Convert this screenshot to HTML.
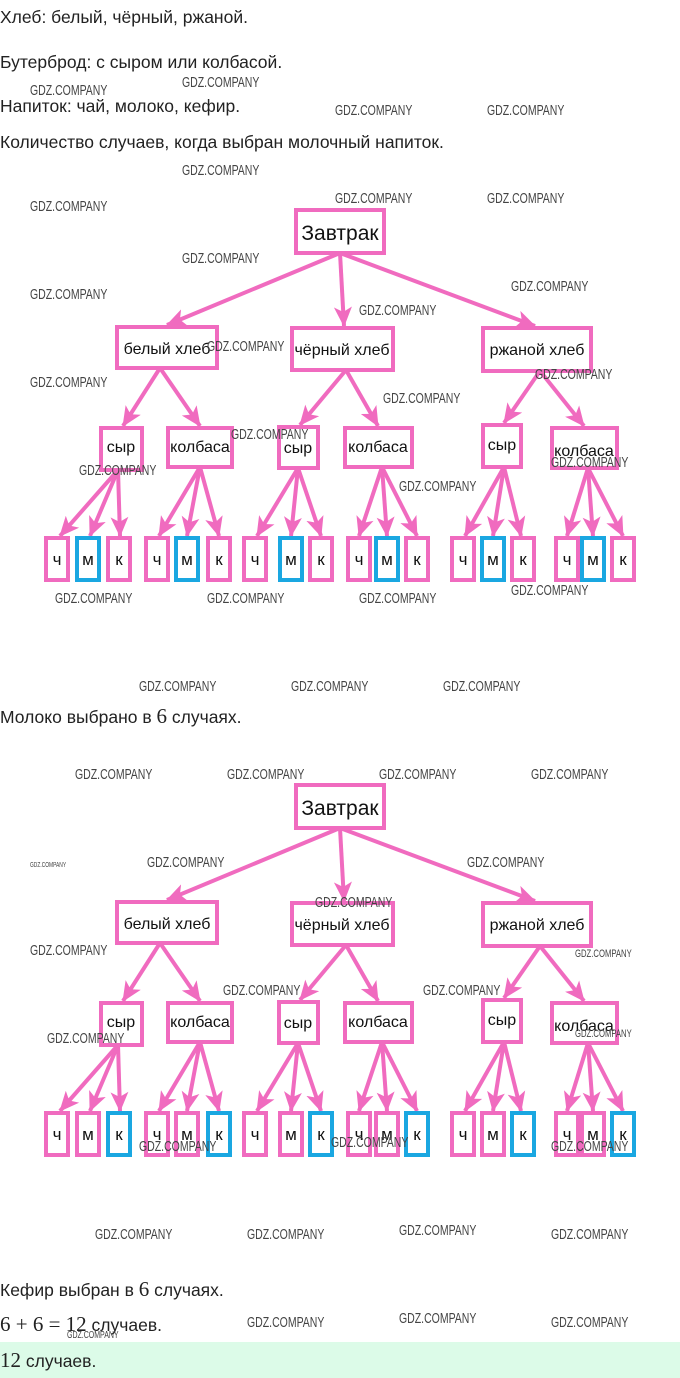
<!DOCTYPE html>
<html><head><meta charset="utf-8"><style>
body{margin:0;background:#fff;width:680px;height:1378px;position:relative;overflow:hidden;font-family:"Liberation Sans","DejaVu Sans",sans-serif;color:#222}
.t{position:absolute;left:0;font-size:17.5px;white-space:nowrap}
.m{font-family:"Liberation Serif",serif;font-size:21px}
.w{position:absolute;font-family:"Liberation Sans Narrow","Liberation Sans",sans-serif;font-size:15px;color:#444;transform:scaleX(0.7);transform-origin:left;white-space:nowrap}
.g{position:absolute;left:0;top:1342px;width:680px;height:36px;background:#dcfbe8}
svg{position:absolute;left:0}
</style></head><body>
<div class="t" style="top:7px">Хлеб: белый, чёрный, ржаной.</div>
<div class="t" style="top:52px">Бутерброд: с сыром или колбасой.</div>
<div class="t" style="top:96px">Напиток: чай, молоко, кефир.</div>
<div class="t" style="top:132px">Количество случаев, когда выбран молочный напиток.</div>
<div class="t" style="top:704px">Молоко выбрано в <span class="m">6</span> случаях.</div>
<div class="t" style="top:1277px">Кефир выбран в <span class="m">6</span> случаях.</div>
<div class="t" style="top:1312px"><span class="m">6 + 6 = 12</span> случаев.</div>
<div class="g"></div>
<div class="t" style="top:1348px"><span class="m">12</span> случаев.</div>

<svg width="680" height="1378" viewBox="0 0 680 1378" style="top:0">
<defs>
<marker id="a" markerUnits="userSpaceOnUse" markerWidth="20" markerHeight="18" refX="19" refY="9" orient="auto"><path d="M0,0 L20,9 L0,18 L5,9 Z" fill="#f06bbf"/></marker>
<g id="lines" stroke="#f06bbf" stroke-width="4" fill="none" marker-end="url(#a)">
<line x1="340" y1="253" x2="167" y2="325"/>
<line x1="340" y1="253" x2="344" y2="326"/>
<line x1="340" y1="253" x2="535" y2="326"/>
<line x1="160" y1="368" x2="123" y2="426"/>
<line x1="160" y1="368" x2="200" y2="426"/>
<line x1="346" y1="370" x2="300" y2="425"/>
<line x1="346" y1="370" x2="378" y2="426"/>
<line x1="540" y1="371" x2="504" y2="423"/>
<line x1="540" y1="371" x2="584" y2="426"/>
<line x1="118" y1="470" x2="60" y2="536"/>
<line x1="118" y1="470" x2="90" y2="536"/>
<line x1="118" y1="470" x2="120" y2="536"/>
<line x1="200" y1="467" x2="159" y2="536"/>
<line x1="200" y1="467" x2="187" y2="536"/>
<line x1="200" y1="467" x2="219" y2="536"/>
<line x1="298" y1="468" x2="257" y2="536"/>
<line x1="298" y1="468" x2="291" y2="536"/>
<line x1="298" y1="468" x2="321" y2="536"/>
<line x1="382" y1="467" x2="359" y2="536"/>
<line x1="382" y1="467" x2="387" y2="536"/>
<line x1="382" y1="467" x2="417" y2="536"/>
<line x1="504" y1="467" x2="465" y2="536"/>
<line x1="504" y1="467" x2="493" y2="536"/>
<line x1="504" y1="467" x2="521" y2="536"/>
<line x1="588" y1="468" x2="567" y2="536"/>
<line x1="588" y1="468" x2="593" y2="536"/>
<line x1="588" y1="468" x2="623" y2="536"/>
</g>
<g id="boxes" fill="#fff" stroke="#f06bbf" stroke-width="4">
<rect x="296" y="210" width="88" height="43"/>
<rect x="117" y="327" width="100" height="41"/>
<rect x="292" y="328" width="101" height="42"/>
<rect x="483" y="328" width="108" height="43"/>
<rect x="101" y="428" width="41" height="42"/>
<rect x="168" y="428" width="64" height="39"/>
<rect x="279" y="427" width="39" height="41"/>
<rect x="345" y="428" width="67" height="39"/>
<rect x="483" y="425" width="38" height="42"/>
<rect x="552" y="428" width="65" height="40"/>
</g>
<g id="labels" font-family="Liberation Sans, sans-serif" fill="#111" text-anchor="middle">
<text x="340" y="240" font-size="21">Завтрак</text>
<text x="167" y="354" font-size="16">белый хлеб</text>
<text x="342" y="355" font-size="16">чёрный хлеб</text>
<text x="537" y="355" font-size="16">ржаной хлеб</text>
<text x="121" y="452" font-size="16">сыр</text>
<text x="200" y="452" font-size="16">колбаса</text>
<text x="298" y="453" font-size="16">сыр</text>
<text x="378" y="452" font-size="16">колбаса</text>
<text x="502" y="450" font-size="16">сыр</text>
<text x="584" y="456" font-size="16">колбаса</text>
</g>
<g id="lt" font-family="Liberation Sans, sans-serif" fill="#111" text-anchor="middle" font-size="17">
<text x="57" y="565">ч</text><text x="88" y="565">м</text><text x="119" y="565">к</text>
<text x="157" y="565">ч</text><text x="187" y="565">м</text><text x="219" y="565">к</text>
<text x="255" y="565">ч</text><text x="291" y="565">м</text><text x="321" y="565">к</text>
<text x="359" y="565">ч</text><text x="387" y="565">м</text><text x="417" y="565">к</text>
<text x="463" y="565">ч</text><text x="493" y="565">м</text><text x="523" y="565">к</text>
<text x="567" y="565">ч</text><text x="593" y="565">м</text><text x="623" y="565">к</text>
</g>
</defs>

<use href="#lines"/><use href="#boxes"/><use href="#labels"/>
<g fill="#fff" stroke-width="4">
<g stroke="#f06bbf">
<rect x="46" y="538" width="22" height="42"/><rect x="108" y="538" width="22" height="42"/>
<rect x="146" y="538" width="22" height="42"/><rect x="208" y="538" width="22" height="42"/>
<rect x="244" y="538" width="22" height="42"/><rect x="310" y="538" width="22" height="42"/>
<rect x="348" y="538" width="22" height="42"/><rect x="406" y="538" width="22" height="42"/>
<rect x="452" y="538" width="22" height="42"/><rect x="512" y="538" width="22" height="42"/>
<rect x="556" y="538" width="22" height="42"/><rect x="612" y="538" width="22" height="42"/>
</g>
<g stroke="#1aa7e1">
<rect x="77" y="538" width="22" height="42"/><rect x="176" y="538" width="22" height="42"/>
<rect x="280" y="538" width="22" height="42"/><rect x="376" y="538" width="22" height="42"/>
<rect x="482" y="538" width="22" height="42"/><rect x="582" y="538" width="22" height="42"/>
</g>
</g>
<use href="#lt"/>

<g transform="translate(0,575)">
<use href="#lines"/><use href="#boxes"/><use href="#labels"/>
<g fill="#fff" stroke-width="4">
<g stroke="#f06bbf">
<rect x="46" y="538" width="22" height="42"/><rect x="77" y="538" width="22" height="42"/>
<rect x="146" y="538" width="22" height="42"/><rect x="176" y="538" width="22" height="42"/>
<rect x="244" y="538" width="22" height="42"/><rect x="280" y="538" width="22" height="42"/>
<rect x="348" y="538" width="22" height="42"/><rect x="376" y="538" width="22" height="42"/>
<rect x="452" y="538" width="22" height="42"/><rect x="482" y="538" width="22" height="42"/>
<rect x="556" y="538" width="22" height="42"/><rect x="582" y="538" width="22" height="42"/>
</g>
<g stroke="#1aa7e1">
<rect x="108" y="538" width="22" height="42"/><rect x="208" y="538" width="22" height="42"/>
<rect x="310" y="538" width="22" height="42"/><rect x="406" y="538" width="22" height="42"/>
<rect x="512" y="538" width="22" height="42"/><rect x="612" y="538" width="22" height="42"/>
</g>
</g>
<use href="#lt"/>
</g>
</svg>

<div class="w" style="left:30px;top:82px">GDZ.COMPANY</div>
<div class="w" style="left:182px;top:74px">GDZ.COMPANY</div>
<div class="w" style="left:335px;top:102px">GDZ.COMPANY</div>
<div class="w" style="left:487px;top:102px">GDZ.COMPANY</div>
<div class="w" style="left:182px;top:162px">GDZ.COMPANY</div>
<div class="w" style="left:30px;top:198px">GDZ.COMPANY</div>
<div class="w" style="left:335px;top:190px">GDZ.COMPANY</div>
<div class="w" style="left:487px;top:190px">GDZ.COMPANY</div>
<div class="w" style="left:182px;top:250px">GDZ.COMPANY</div>
<div class="w" style="left:30px;top:286px">GDZ.COMPANY</div>
<div class="w" style="left:511px;top:278px">GDZ.COMPANY</div>
<div class="w" style="left:359px;top:302px">GDZ.COMPANY</div>
<div class="w" style="left:207px;top:338px">GDZ.COMPANY</div>
<div class="w" style="left:30px;top:374px">GDZ.COMPANY</div>
<div class="w" style="left:535px;top:366px">GDZ.COMPANY</div>
<div class="w" style="left:383px;top:390px">GDZ.COMPANY</div>
<div class="w" style="left:231px;top:426px">GDZ.COMPANY</div>
<div class="w" style="left:79px;top:462px">GDZ.COMPANY</div>
<div class="w" style="left:551px;top:454px">GDZ.COMPANY</div>
<div class="w" style="left:399px;top:478px">GDZ.COMPANY</div>
<div class="w" style="left:55px;top:590px">GDZ.COMPANY</div>
<div class="w" style="left:207px;top:590px">GDZ.COMPANY</div>
<div class="w" style="left:359px;top:590px">GDZ.COMPANY</div>
<div class="w" style="left:511px;top:582px">GDZ.COMPANY</div>
<div class="w" style="left:139px;top:678px">GDZ.COMPANY</div>
<div class="w" style="left:291px;top:678px">GDZ.COMPANY</div>
<div class="w" style="left:443px;top:678px">GDZ.COMPANY</div>
<div class="w" style="left:75px;top:766px">GDZ.COMPANY</div>
<div class="w" style="left:227px;top:766px">GDZ.COMPANY</div>
<div class="w" style="left:379px;top:766px">GDZ.COMPANY</div>
<div class="w" style="left:531px;top:766px">GDZ.COMPANY</div>
<div class="w" style="left:147px;top:854px">GDZ.COMPANY</div>
<div class="w" style="left:467px;top:854px">GDZ.COMPANY</div>
<div class="w" style="left:315px;top:894px">GDZ.COMPANY</div>
<div class="w" style="left:30px;top:942px">GDZ.COMPANY</div>
<div class="w" style="left:223px;top:982px">GDZ.COMPANY</div>
<div class="w" style="left:423px;top:982px">GDZ.COMPANY</div>
<div class="w" style="left:47px;top:1030px">GDZ.COMPANY</div>
<div class="w" style="left:139px;top:1138px">GDZ.COMPANY</div>
<div class="w" style="left:331px;top:1134px">GDZ.COMPANY</div>
<div class="w" style="left:551px;top:1138px">GDZ.COMPANY</div>
<div class="w" style="left:95px;top:1226px">GDZ.COMPANY</div>
<div class="w" style="left:247px;top:1226px">GDZ.COMPANY</div>
<div class="w" style="left:399px;top:1222px">GDZ.COMPANY</div>
<div class="w" style="left:551px;top:1226px">GDZ.COMPANY</div>
<div class="w" style="left:247px;top:1314px">GDZ.COMPANY</div>
<div class="w" style="left:399px;top:1310px">GDZ.COMPANY</div>
<div class="w" style="left:551px;top:1314px">GDZ.COMPANY</div>
<div class="w" style="left:67px;top:1330px;font-size:10px">GDZ.COMPANY</div>
<div class="w" style="left:30px;top:862px;font-size:7px">GDZ.COMPANY</div>
<div class="w" style="left:575px;top:948px;font-size:11px">GDZ.COMPANY</div>
<div class="w" style="left:575px;top:1028px;font-size:11px">GDZ.COMPANY</div>
</body></html>
